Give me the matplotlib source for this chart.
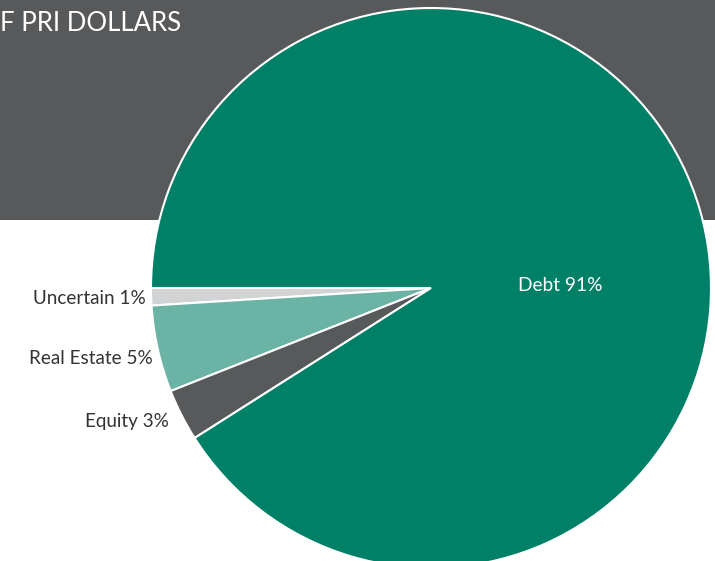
import matplotlib
matplotlib.use("Agg")
import matplotlib.pyplot as plt
from matplotlib.patches import Rectangle

categories = ["Uncertain", "Real Estate", "Equity", "Debt"]
values = [1, 5, 3, 91]
colors = ["#d1d3d4", "#6bb3a5", "#58595b", "#008066"]
title = "F PRI DOLLARS"

plt.rcParams['font.family'] = ['Lato', 'DejaVu Sans']

W, H = 715, 561
fig = plt.figure(figsize=(W / 100, H / 100), dpi=100)
ax = fig.add_axes([0, 0, 1, 1])
ax.set_xlim(0, W)
ax.set_ylim(0, H)
ax.set_aspect('equal')
ax.axis('off')

ax.add_patch(Rectangle((0, H - 220), W, 220, facecolor="#58595b", edgecolor='none', zorder=0))
ax.text(0, H - 23, title, color='white', fontsize=18.5,
        ha='left', va='center', zorder=1)

cx, cy, r = 431, H - 288, 280
wedges, _ = ax.pie(values, colors=colors, startangle=180, counterclock=True,
                   center=(cx, cy), radius=r, frame=True,
                   wedgeprops=dict(edgecolor='white', linewidth=1.5))
for w in wedges:
    w.set_zorder(2)
ax.set_xlim(0, W)
ax.set_ylim(0, H)
ax.axis('off')

label_pos = [(146, H - 298), (153, H - 358), (169, H - 421)]
for (x, y), c, v in zip(label_pos, categories[:3], values[:3]):
    ax.text(x, y, f"{c} {v}%", color="#333333", fontsize=13.6,
            ha='right', va='center', zorder=3)
ax.text(560, H - 285, f"{categories[3]} {values[3]}%", color='white', fontsize=13.8,
        ha='center', va='center', zorder=3)

fig.savefig("out.png", dpi=100)
